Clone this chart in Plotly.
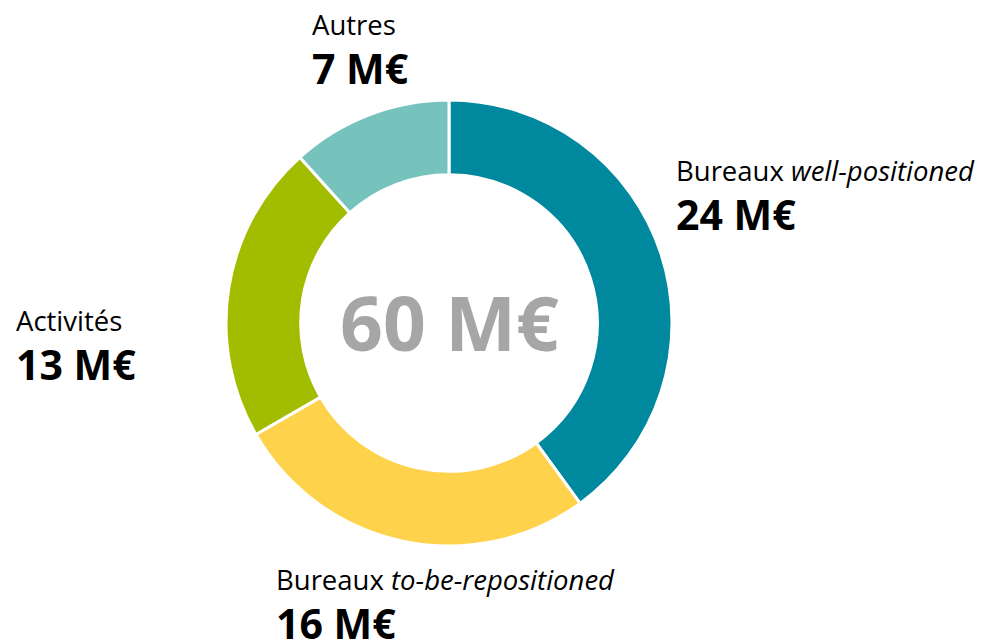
import plotly.graph_objects as go

# Data
names = ["Bureaux", "Bureaux", "Activités", "Autres"]
qualifiers = ["well-positioned", "to-be-repositioned", "", ""]
values = [24, 16, 13, 7]
unit = "M€"
colors = ["#00889F", "#FFD24C", "#A2BD00", "#76C2BD"]

W, H = 989, 644
FONT = "Open Sans"

def px(x):
    return x / W

def py(y):
    return 1 - y / H

fig = go.Figure(go.Pie(
    values=values,
    labels=[f"{n} {q}".strip() for n, q in zip(names, qualifiers)],
    sort=False,
    direction="clockwise",
    rotation=0,
    hole=0.665,
    marker=dict(colors=colors, line=dict(color="white", width=3)),
    textinfo="none",
    hoverinfo="label+value",
    showlegend=False,
    domain=dict(x=[px(449 - 223), px(449 + 223)], y=[py(323 + 223), py(323 - 223)]),
))

# label positions (pixels): x left, y of the two-line block's middle
label_pos = [(674, 197), (274, 606), (14, 347), (310, 51)]

annotations = []
for (n, q, v), (x, y) in zip(zip(names, qualifiers, values), label_pos):
    name_txt = n + (f" <i>{q}</i>" if q else "")
    txt = (f"<span style='font-size:27.5px'>{name_txt}</span><br>"
           f"<span style='font-size:41px'><b>{v} {unit}</b></span>")
    annotations.append(dict(
        x=px(x), y=py(y), xref="paper", yref="paper", xanchor="left", yanchor="middle",
        align="left", text=txt, showarrow=False,
        font=dict(family=FONT, size=38, color="#000000"),
    ))

annotations.append(dict(
    x=px(449), y=py(322), xref="paper", yref="paper", xanchor="center", yanchor="middle",
    text=f"<b>{sum(values)} {unit}</b>", showarrow=False,
    font=dict(family=FONT, size=75, color="#A6A6A6"),
))

fig.update_layout(
    width=W, height=H,
    margin=dict(l=0, r=0, t=0, b=0),
    paper_bgcolor="white", plot_bgcolor="white",
    annotations=annotations,
)

fig.write_html(
    "out.html",
    config={"displayModeBar": False},
    post_script="document.body.style.margin='0';document.body.style.padding='0';",
)
